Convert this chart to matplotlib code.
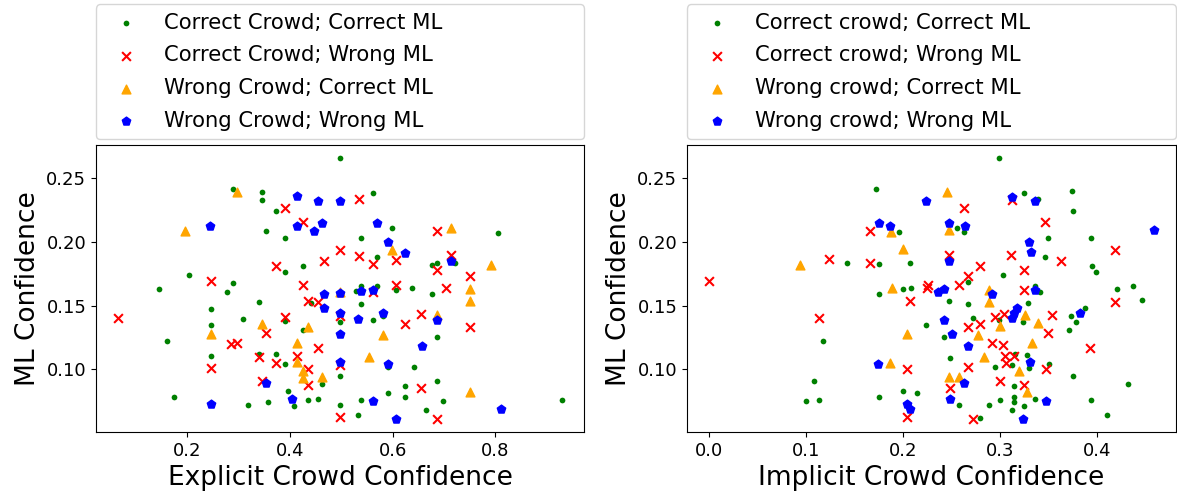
import matplotlib
matplotlib.use("Agg")
import matplotlib.pyplot as plt

# ---------------- Left panel: Explicit crowd confidence ----------------
exp_cc_x = [0.497, 0.288, 0.346, 0.346, 0.372, 0.354, 0.390, 0.390, 0.425, 0.204,
            0.288, 0.277, 0.145, 0.340, 0.440, 0.561, 0.598, 0.539, 0.805, 0.570,
            0.722, 0.677, 0.686, 0.606, 0.638, 0.677, 0.529, 0.539, 0.570, 0.539,
            0.246, 0.246, 0.246, 0.161, 0.174, 0.309, 0.390, 0.425, 0.340, 0.372,
            0.390, 0.462, 0.396, 0.407, 0.358, 0.318, 0.435, 0.455, 0.498, 0.498,
            0.498, 0.561, 0.582, 0.687, 0.592, 0.641, 0.687, 0.624, 0.592, 0.624,
            0.539, 0.699, 0.930, 0.665, 0.533]
exp_cc_y = [0.2655, 0.241, 0.239, 0.233, 0.224, 0.208, 0.203, 0.176, 0.181, 0.174,
            0.168, 0.161, 0.163, 0.153, 0.152, 0.238, 0.211, 0.203, 0.207, 0.188,
            0.183, 0.182, 0.183, 0.1625, 0.164, 0.159, 0.1616, 0.1656, 0.1656, 0.151,
            0.1476, 0.1347, 0.1108, 0.1223, 0.078, 0.1397, 0.138, 0.1308, 0.112, 0.1123,
            0.104, 0.0886, 0.0833, 0.0714, 0.0748, 0.0722, 0.0764, 0.0772, 0.137, 0.0952,
            0.0725, 0.1387, 0.142, 0.1255, 0.102, 0.1018, 0.0912, 0.0867, 0.0817, 0.078,
            0.076, 0.0754, 0.0764, 0.068, 0.0646]

exp_cw_x = [0.390, 0.425, 0.497, 0.466, 0.372, 0.246, 0.425, 0.435, 0.455, 0.534,
            0.686, 0.534, 0.561, 0.606, 0.713, 0.686, 0.750, 0.705, 0.606, 0.561,
            0.065, 0.246, 0.285, 0.296, 0.354, 0.390, 0.340, 0.372, 0.413, 0.455,
            0.435, 0.435, 0.346, 0.498, 0.498, 0.498, 0.624, 0.656, 0.750, 0.656,
            0.687]
exp_cw_y = [0.226, 0.2154, 0.1933, 0.1851, 0.1806, 0.169, 0.166, 0.1537, 0.1524, 0.2334,
            0.2086, 0.1885, 0.1827, 0.1859, 0.1899, 0.1775, 0.1733, 0.1638, 0.1661, 0.161,
            0.140, 0.101, 0.120, 0.121, 0.1282, 0.141, 0.110, 0.105, 0.1108, 0.1168,
            0.100, 0.0878, 0.0912, 0.142, 0.1035, 0.0627, 0.1353, 0.1432, 0.1332, 0.0857,
            0.0612]

exp_wc_x = [0.296, 0.195, 0.497, 0.713, 0.598, 0.792, 0.750, 0.750, 0.246, 0.346,
            0.435, 0.413, 0.413, 0.425, 0.425, 0.462, 0.687, 0.582, 0.554, 0.750]
exp_wc_y = [0.2386, 0.208, 0.161, 0.2104, 0.1938, 0.1814, 0.163, 0.1537, 0.1274, 0.1358,
            0.133, 0.1207, 0.1057, 0.099, 0.0936, 0.0944, 0.1426, 0.1266, 0.1094, 0.0825]

exp_ww_x = [0.414, 0.455, 0.497, 0.245, 0.414, 0.462, 0.447, 0.466, 0.497, 0.466,
            0.570, 0.592, 0.624, 0.713, 0.539, 0.561, 0.246, 0.354, 0.403, 0.498,
            0.498, 0.498, 0.533, 0.582, 0.687, 0.658, 0.592, 0.561, 0.812, 0.606]
exp_ww_y = [0.2355, 0.2315, 0.2315, 0.212, 0.2123, 0.2146, 0.2086, 0.159, 0.1598, 0.148,
            0.2144, 0.1994, 0.1914, 0.1846, 0.1616, 0.1624, 0.0728, 0.0896, 0.0767, 0.144,
            0.1279, 0.1055, 0.1392, 0.1445, 0.1384, 0.1181, 0.1041, 0.0752, 0.0688, 0.0612]

# ---------------- Right panel: Implicit crowd confidence ----------------
imp_cc_x = [0.1715, 0.196, 0.1416, 0.1746, 0.2072, 0.1746, 0.1997, 0.2075, 0.2987, 0.3247,
            0.339, 0.374, 0.375, 0.255, 0.262, 0.3495, 0.346, 0.2667, 0.3031, 0.336,
            0.3409, 0.393, 0.3945, 0.398, 0.4196, 0.4371, 0.446, 0.2474, 0.2667, 0.3285,
            0.3234, 0.2986, 0.2722, 0.2234, 0.2416, 0.3728, 0.3873, 0.378, 0.3708, 0.3152,
            0.3271, 0.3498, 0.3292, 0.3117, 0.2477, 0.2942, 0.3144, 0.375, 0.4313, 0.2577,
            0.2887, 0.2993, 0.3144, 0.3144, 0.3361, 0.3244, 0.312, 0.393, 0.4103, 0.2794,
            0.1175, 0.1082, 0.0997, 0.1131, 0.1746, 0.1997, 0.2141]
imp_cc_y = [0.241, 0.2073, 0.1832, 0.1822, 0.1832, 0.159, 0.163, 0.164, 0.2655, 0.2378,
            0.2335, 0.2394, 0.2241, 0.211, 0.2078, 0.2028, 0.1877, 0.1682, 0.1743, 0.1656,
            0.161, 0.2028, 0.1809, 0.1759, 0.163, 0.1653, 0.1543, 0.1532, 0.151, 0.1519,
            0.1373, 0.139, 0.140, 0.1347, 0.1255, 0.1418, 0.148, 0.137, 0.1308, 0.1123,
            0.111, 0.1044, 0.101, 0.1036, 0.1089, 0.1018, 0.087, 0.0952, 0.0888, 0.0722,
            0.0725, 0.0764, 0.078, 0.0746, 0.0772, 0.0717, 0.068, 0.0762, 0.0643, 0.0622,
            0.1223, 0.0912, 0.0754, 0.0764, 0.078, 0.0833, 0.0817]

imp_cw_x = [0.1653, 0.1234, 0.1653, 0.0, 0.207, 0.225, 0.224, 0.262, 0.3117, 0.3457,
            0.3113, 0.247, 0.2794, 0.267, 0.257, 0.3247, 0.3629, 0.3247, 0.4182, 0.4182,
            0.3038, 0.2942, 0.267, 0.2794, 0.3533, 0.3495, 0.2914, 0.3031, 0.3928, 0.3052,
            0.3137, 0.3058, 0.3474, 0.267, 0.2477, 0.2993, 0.3247, 0.2722, 0.1131, 0.2041,
            0.2041]
imp_cw_y = [0.2086, 0.1862, 0.1832, 0.169, 0.1537, 0.166, 0.1634, 0.2263, 0.233, 0.2152,
            0.1899, 0.1893, 0.1806, 0.1735, 0.1661, 0.178, 0.1848, 0.1619, 0.1933, 0.1524,
            0.1437, 0.1413, 0.1332, 0.1353, 0.1426, 0.1282, 0.1207, 0.1195, 0.117, 0.1108,
            0.1108, 0.1049, 0.1002, 0.102, 0.0857, 0.091, 0.0878, 0.0612, 0.1405, 0.1007,
            0.0627]

imp_wc_x = [0.187, 0.1997, 0.0931, 0.1887, 0.245, 0.2474, 0.2887, 0.2887, 0.325, 0.2993,
            0.2766, 0.3388, 0.333, 0.2828, 0.3193, 0.2474, 0.257, 0.3271, 0.2041, 0.1863]
imp_wc_y = [0.2073, 0.194, 0.1814, 0.1634, 0.2386, 0.209, 0.1624, 0.153, 0.1426, 0.1337,
            0.1266, 0.1361, 0.1203, 0.1097, 0.0991, 0.0938, 0.0944, 0.0825, 0.1274, 0.1052]

imp_ww_x = [0.2234, 0.1746, 0.1863, 0.3117, 0.336, 0.2474, 0.2636, 0.329, 0.331, 0.247,
            0.2354, 0.2416, 0.336, 0.458, 0.2914, 0.317, 0.3137, 0.3117, 0.2416, 0.2498,
            0.3821, 0.267, 0.3306, 0.2622, 0.2477, 0.3474, 0.3234, 0.1739, 0.2041, 0.2072]
imp_ww_y = [0.2315, 0.2146, 0.2123, 0.2352, 0.2318, 0.2146, 0.2125, 0.1996, 0.1917, 0.1848,
            0.1603, 0.163, 0.1622, 0.2089, 0.159, 0.1484, 0.1445, 0.140, 0.1384, 0.1276,
            0.144, 0.1183, 0.1055, 0.0896, 0.0767, 0.0752, 0.0612, 0.1041, 0.0728, 0.0688]

left_labels = ["Correct Crowd; Correct ML", "Correct Crowd; Wrong ML",
               "Wrong Crowd; Correct ML", "Wrong Crowd; Wrong ML"]
right_labels = ["Correct crowd; Correct ML", "Correct crowd; Wrong ML",
                "Wrong crowd; Correct ML", "Wrong crowd; Wrong ML"]

fig = plt.figure(figsize=(11.77, 4.95), dpi=100)
ax1 = fig.add_axes([96 / 1177, 1 - 432 / 495, 488 / 1177, 287 / 495])
ax2 = fig.add_axes([687 / 1177, 1 - 432 / 495, 489 / 1177, 287 / 495])


def draw(ax, cc, cw, wc, ww, labels, xlabel):
    ax.scatter(cc[0], cc[1], c="green", marker="o", s=17, linewidths=0, label=labels[0])
    ax.scatter(cw[0], cw[1], c="red", marker="x", s=40, linewidths=1.5, label=labels[1])
    ax.scatter(wc[0], wc[1], c="orange", marker="^", s=40, label=labels[2])
    ax.scatter(ww[0], ww[1], c="blue", marker="p", s=40, label=labels[3])
    ax.set_xlabel(xlabel, fontsize=19)
    ax.set_ylabel("ML Confidence", fontsize=19)
    ax.tick_params(labelsize=13)
    ax.legend(loc="lower left", bbox_to_anchor=(0, 1.02, 1, 0.2), mode="expand",
              borderaxespad=0, fontsize=15.2, labelspacing=0.6)


draw(ax1, (exp_cc_x, exp_cc_y), (exp_cw_x, exp_cw_y), (exp_wc_x, exp_wc_y),
     (exp_ww_x, exp_ww_y), left_labels, "Explicit Crowd Confidence")
draw(ax2, (imp_cc_x, imp_cc_y), (imp_cw_x, imp_cw_y), (imp_wc_x, imp_wc_y),
     (imp_ww_x, imp_ww_y), right_labels, "Implicit Crowd Confidence")

fig.savefig("out.png", dpi=100)
